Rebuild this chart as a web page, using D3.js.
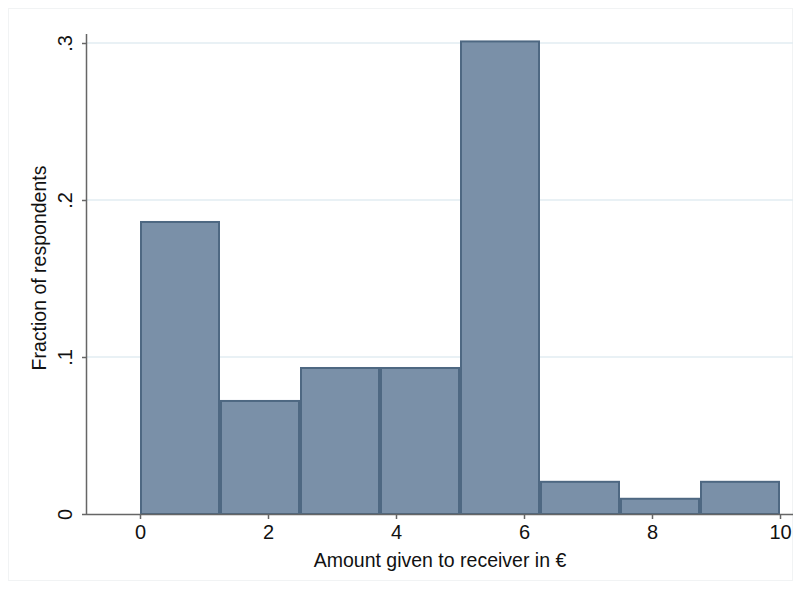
<!DOCTYPE html>
<html><head><meta charset="utf-8">
<script src="https://cdn.jsdelivr.net/npm/d3@7"></script>
<style>body{margin:0;background:#fff}svg{display:block}text{font-family:"Liberation Sans",Arial,sans-serif;fill:#111}</style>
</head><body>
<svg id="c" width="801" height="589"></svg>
<script>
const binStarts = [0, 1.25, 2.5, 3.75, 5, 6.25, 7.5, 8.75];
const binWidth = 1.25;
const fractions = [0.186, 0.072, 0.093, 0.093, 0.301, 0.0205, 0.0097, 0.0205];
const xTicks = [0, 2, 4, 6, 8, 10];
const yTicks = [0, 0.1, 0.2, 0.3];
const yTickLabels = ["0", ".1", ".2", ".3"];
const xTitle = "Amount given to receiver in €";
const yTitle = "Fraction of respondents";

const svg = d3.select("#c");
svg.append("rect").attr("x",8.5).attr("y",8.5).attr("width",784).attr("height",572)
  .attr("fill","none").attr("stroke","#f1f3f4");

const x = d3.scaleLinear().domain([0,10]).range([140,780]);
const y = d3.scaleLinear().domain([0,0.3]).range([514,43]);
const xLeft = 87, xRight = 793;

// grid
svg.append("g").selectAll("line").data(yTicks.filter(d=>d>0)).join("line")
  .attr("x1",xLeft).attr("x2",xRight).attr("y1",d=>y(d)).attr("y2",d=>y(d))
  .attr("stroke","#e2ecf2").attr("stroke-width",1.5);

// bars
svg.append("g").selectAll("rect").data(binStarts).join("rect")
  .attr("x",(d)=>x(d)+1).attr("width",(d)=>x(d+binWidth)-x(d)-2)
  .attr("y",(d,i)=>y(fractions[i])).attr("height",(d,i)=>y(0)-y(fractions[i]))
  .attr("fill","#7a90a8").attr("stroke","#4e6882").attr("stroke-width",2);

// axes
const ya = svg.append("g").attr("transform",`translate(${xLeft},0)`)
  .call(d3.axisLeft(y).tickValues(yTicks).tickFormat((d,i)=>yTickLabels[i]).tickSize(5).tickPadding(6));
ya.select(".domain").attr("d",`M-0.5,${y(0.3)-9}V${y(0)}`).attr("stroke","#666").attr("stroke-width",1.5);
ya.selectAll(".tick line").attr("stroke","#666").attr("stroke-width",1.5);
ya.selectAll(".tick text").attr("font-size",20).attr("transform","rotate(-90)")
  .attr("x",0).attr("y",-15).attr("dy","0em").attr("text-anchor","middle");

const xa = svg.append("g").attr("transform",`translate(0,${y(0)})`)
  .call(d3.axisBottom(x).tickValues(xTicks).tickFormat(d3.format("d")).tickSize(5).tickPadding(6));
xa.select(".domain").attr("d",`M${xLeft},0.5H${xRight}`).attr("stroke","#666").attr("stroke-width",1.5);
xa.selectAll(".tick line").attr("stroke","#666").attr("stroke-width",1.5);
xa.selectAll(".tick text").attr("font-size",20);

svg.append("text").attr("x",440).attr("y",567).attr("text-anchor","middle").attr("font-size",19.5).text(xTitle);
svg.append("text").attr("transform","translate(46,268) rotate(-90)").attr("text-anchor","middle").attr("font-size",19.5).text(yTitle);
</script>
</body></html>
